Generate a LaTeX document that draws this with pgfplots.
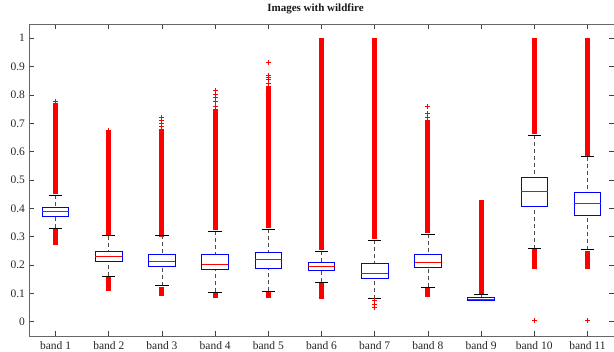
\documentclass[border=0pt]{standalone}
\usepackage{pgfplots}
\pgfplotsset{compat=1.18}
\usepgfplotslibrary{statistics}
\usepackage{fontspec}
\setmainfont{Liberation Serif}
\definecolor{mblue}{RGB}{0,0,255}
\definecolor{mred}{RGB}{255,0,0}
\pgfplotsset{
  myboxes/.style={
    boxplot/draw direction=y,
    boxplot/box extend=0.5,
    boxplot/whisker extend=0.25,
    boxplot/every box/.style={draw=mblue, line width=0.8pt},
    boxplot/every median/.style={draw=mred, line width=0.8pt},
    boxplot/draw/lower whisker/.code={%
      \draw[dashed, dash pattern=on 4pt off 3pt, black!70, line width=0.6pt]
        (boxplot cs:\pgfplotsboxplotvalue{lower whisker}) -- (boxplot cs:\pgfplotsboxplotvalue{lower quartile});
      \draw[black, line width=0.8pt]
        (boxplot whisker cs:\pgfplotsboxplotvalue{lower whisker},0) -- (boxplot whisker cs:\pgfplotsboxplotvalue{lower whisker},1);
    },
    boxplot/draw/upper whisker/.code={%
      \draw[dashed, dash pattern=on 4pt off 3pt, black!70, line width=0.6pt]
        (boxplot cs:\pgfplotsboxplotvalue{upper whisker}) -- (boxplot cs:\pgfplotsboxplotvalue{upper quartile});
      \draw[black, line width=0.8pt]
        (boxplot whisker cs:\pgfplotsboxplotvalue{upper whisker},0) -- (boxplot whisker cs:\pgfplotsboxplotvalue{upper whisker},1);
    },
  },
  dense/.style={draw=mred, line width=5pt, line cap=butt, forget plot},
  sparse/.style={draw=mred, mark options={draw=mred, solid}, only marks, mark=+, mark size=2.5pt, line width=1pt, forget plot},
}
\begin{document}
\begin{tikzpicture}
\begin{axis}[
  name=ax,
  scale only axis,
  width=585pt, height=312pt,
  xmin=0.5, xmax=11.5, ymin=-0.05, ymax=1.05,
  xtick={1,2,3,4,5,6,7,8,9,10,11},
  xticklabels={band 1,band 2,band 3,band 4,band 5,band 6,band 7,band 8,band 9,band 10,band 11},
  ytick={0,0.1,0.2,0.3,0.4,0.5,0.6,0.7,0.8,0.9,1},
  yticklabels={0,0.1,0.2,0.3,0.4,0.5,0.6,0.7,0.8,0.9,1},
  tick align=inside,
  major tick length=5pt,
  axis line style={black!60, line width=0.8pt},
  tick style={black!75, line width=0.7pt},
  ticklabel style={font=\fontsize{11.5}{13}\selectfont, text=black!85},
  xticklabel style={anchor=base, inner sep=0.5pt, yshift=-13.5pt},
  yticklabel style={xshift=-0.5pt},
  title={Images with wildfire},
  title style={font=\bfseries\fontsize{11}{13}\selectfont, text=black!90, at={(0.5,1)}, anchor=base, yshift=6.7pt, xshift=-6pt},
  myboxes,
  clip=false,
]
% dense outlier runs (drawn first, below boxes)
\addplot[dense] coordinates {(1,0.452) (1,0.772)};
\addplot[dense] coordinates {(1,0.272) (1,0.326)};
\addplot[dense] coordinates {(2,0.307) (2,0.668)};
\addplot[dense] coordinates {(2,0.110) (2,0.157)};
\addplot[dense] coordinates {(3,0.300) (3,0.680)};
\addplot[dense] coordinates {(3,0.092) (3,0.124)};
\addplot[dense] coordinates {(4,0.322) (4,0.750)};
\addplot[dense] coordinates {(4,0.083) (4,0.102)};
\addplot[dense] coordinates {(5,0.330) (5,0.830)};
\addplot[dense] coordinates {(5,0.083) (5,0.105)};
\addplot[dense] coordinates {(6,0.253) (6,1.002)};
\addplot[dense] coordinates {(6,0.080) (6,0.136)};
\addplot[dense] coordinates {(7,0.292) (7,1.002)};
\addplot[dense] coordinates {(8,0.312) (8,0.710)};
\addplot[dense] coordinates {(8,0.089) (8,0.118)};
\addplot[dense] coordinates {(9,0.098) (9,0.430)};
\addplot[dense] coordinates {(10,0.661) (10,1.002)};
\addplot[dense] coordinates {(10,0.186) (10,0.255)};
\addplot[dense] coordinates {(11,0.586) (11,1.002)};
\addplot[dense] coordinates {(11,0.186) (11,0.251)};
% sparse outliers
\addplot[sparse] coordinates {(1,0.778) (1,0.775)};
\addplot[sparse] coordinates {(2,0.675) (2,0.670)};
\addplot[sparse] coordinates {(3,0.690) (3,0.700) (3,0.710) (3,0.720)};
\addplot[sparse] coordinates {(4,0.760) (4,0.775) (4,0.790) (4,0.800) (4,0.815)};
\addplot[sparse] coordinates {(5,0.840) (5,0.855) (5,0.860) (5,0.870) (5,0.913)};
\addplot[sparse] coordinates {(7,0.074) (7,0.062) (7,0.051)};
\addplot[sparse] coordinates {(8,0.720) (8,0.734) (8,0.760)};
\addplot[sparse] coordinates {(10,0.003) (11,0.003)};
% boxes
\addplot[boxplot prepared={draw position=1, median=0.390, upper quartile=0.403, lower quartile=0.373, upper whisker=0.447, lower whisker=0.329}] coordinates {};
\addplot[boxplot prepared={draw position=2, median=0.232, upper quartile=0.250, lower quartile=0.214, upper whisker=0.303, lower whisker=0.160}] coordinates {};
\addplot[boxplot prepared={draw position=3, median=0.214, upper quartile=0.238, lower quartile=0.194, upper whisker=0.306, lower whisker=0.127}] coordinates {};
\addplot[boxplot prepared={draw position=4, median=0.204, upper quartile=0.238, lower quartile=0.186, upper whisker=0.320, lower whisker=0.105}] coordinates {};
\addplot[boxplot prepared={draw position=5, median=0.220, upper quartile=0.243, lower quartile=0.189, upper whisker=0.326, lower whisker=0.108}] coordinates {};
\addplot[boxplot prepared={draw position=6, median=0.194, upper quartile=0.208, lower quartile=0.181, upper whisker=0.250, lower whisker=0.139}] coordinates {};
\addplot[boxplot prepared={draw position=7, median=0.170, upper quartile=0.207, lower quartile=0.154, upper whisker=0.288, lower whisker=0.081}] coordinates {};
\addplot[boxplot prepared={draw position=8, median=0.211, upper quartile=0.238, lower quartile=0.191, upper whisker=0.309, lower whisker=0.121}] coordinates {};
\addplot[boxplot prepared={draw position=9, median=0.079, upper quartile=0.086, lower quartile=0.076, upper whisker=0.095, lower whisker=0.075}] coordinates {};
\addplot[boxplot prepared={draw position=10, median=0.459, upper quartile=0.508, lower quartile=0.408, upper whisker=0.657, lower whisker=0.258}] coordinates {};
\addplot[boxplot prepared={draw position=11, median=0.417, upper quartile=0.458, lower quartile=0.376, upper whisker=0.582, lower whisker=0.254}] coordinates {};
\end{axis}
\pgfresetboundingbox
\path[use as bounding box] ([shift={(-29pt,-16pt)}]ax.south west) rectangle ([shift={(0pt,24pt)}]ax.north east);
\end{tikzpicture}
\end{document}
